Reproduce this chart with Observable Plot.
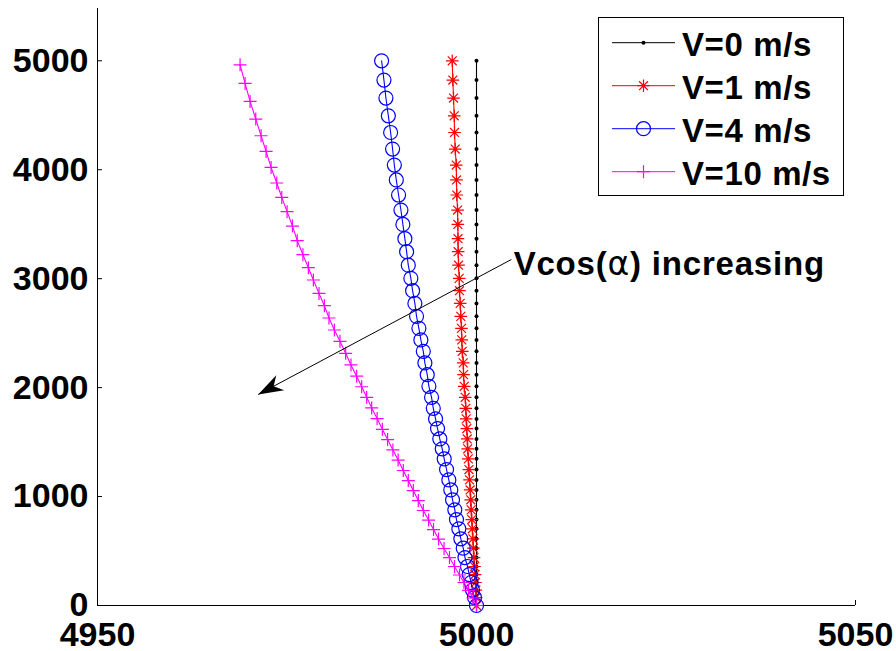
<!DOCTYPE html>
<html><head><meta charset="utf-8">
<script src="https://cdn.jsdelivr.net/npm/d3@7"></script>
<script src="https://cdn.jsdelivr.net/npm/@observablehq/plot@0.6"></script>
<style>
body{margin:0;background:#fff;}
#chart{position:relative;width:896px;height:651px;}
</style></head><body><div id="chart"></div>
<script>
// ---------- data ----------
const seriesNames = ["V=0 m/s", "V=1 m/s", "V=4 m/s", "V=10 m/s"];
const seriesColors = ["#000000", "#ff0000", "#0000ff", "#ff00ff"];
const heights = [0,73,142,211,284,358,440,526,612,704,789,878,970,1061,1153,1248,1346,1438,1529,1624,1713,1810,1911,2012,2119,2227,2333,2438,2544,2654,2773,2890,3003,3124,3248,3367,3498,3630,3768,3906,4043,4190,4342,4495,4658,4823,5000];
const xV0 = [5000,5000,5000,5000,5000,5000,5000,5000,5000,5000,5000,5000,5000,5000,5000,5000,5000,5000,5000,5000,5000,5000,5000,5000,5000,5000,5000,5000,5000,5000,5000,5000,5000,5000,5000,5000,5000,5000,5000,5000,5000,5000,5000,5000,5000,5000,5000];
const xV1 = [5000,4999.95,4999.91,4999.86,4999.80,4999.74,4999.67,4999.59,4999.53,4999.45,4999.38,4999.30,4999.24,4999.16,4999.08,4999.00,4998.92,4998.84,4998.78,4998.72,4998.64,4998.59,4998.51,4998.38,4998.29,4998.25,4998.12,4998.06,4998.02,4997.93,4997.85,4997.76,4997.72,4997.63,4997.58,4997.56,4997.54,4997.50,4997.40,4997.36,4997.33,4997.19,4997.10,4997.06,4996.97,4996.88,4996.80];
const xV4 = [5000,4999.74,4999.47,4999.28,4999.05,4998.81,4998.48,4998.25,4997.93,4997.67,4997.36,4997.14,4996.84,4996.61,4996.35,4996.05,4995.74,4995.48,4995.16,4994.86,4994.60,4994.30,4994.07,4993.72,4993.50,4993.19,4992.98,4992.66,4992.40,4992.09,4991.87,4991.57,4991.34,4991.00,4990.78,4990.55,4990.29,4990.03,4989.72,4989.42,4989.16,4988.93,4988.67,4988.37,4988.05,4987.79,4987.48];
const heightsV10 = [0,69,138,211,280,358,440,523,610,697,784,872,963,1055,1147,1239,1335,1428,1523,1617,1716,1814,1911,2008,2105,2208,2315,2425,2529,2639,2752,2865,2988,3101,3220,3349,3483,3615,3746,3878,4021,4168,4312,4465,4627,4792,4963];
const xV10 = [5000,4999.54,4998.95,4998.35,4997.76,4997.10,4996.44,4995.72,4994.99,4994.33,4993.68,4992.98,4992.32,4991.66,4991.00,4990.34,4989.66,4988.97,4988.27,4987.58,4986.89,4986.17,4985.51,4984.85,4984.19,4983.44,4982.74,4981.99,4981.25,4980.54,4979.93,4979.22,4978.48,4977.82,4977.10,4976.35,4975.72,4975.01,4974.31,4973.65,4972.90,4972.24,4971.58,4970.88,4970.13,4969.47,4968.81];
const xTicks = [4950, 5000, 5050];
const yTicks = [0, 1000, 2000, 3000, 4000, 5000];
const xDomain = [4950, 5050];
const yDomain = [0, 5480];
const annotationText = "Vcos(α) increasing";
const annotationPos = [5004.9, 3130];
const arrowStart = [5004.6, 3176];
const arrowEnd = [4971.2, 1937];

// ---------- symbols ----------
const plusSym = {draw(c, s) {const r = Math.sqrt(s / Math.PI); c.moveTo(-r, 0); c.lineTo(r, 0); c.moveTo(0, -r); c.lineTo(0, r);}};
const starSym = {draw(c, s) {const r = Math.sqrt(s / Math.PI), d = r * Math.SQRT1_2;
  c.moveTo(-r, 0); c.lineTo(r, 0); c.moveTo(0, -r); c.lineTo(0, r);
  c.moveTo(-d, -d); c.lineTo(d, d); c.moveTo(-d, d); c.lineTo(d, -d);}};
const headSym = {draw(c, s) {const L = Math.sqrt(s / Math.PI), W = L * 0.34;
  c.moveTo(0, 0); c.lineTo(-L, -W); c.lineTo(-L * 0.7, 0); c.lineTo(-L, W); c.closePath();}};

const series = [
  {name: seriesNames[0], color: seriesColors[0], xs: xV0, ys: heights, symbol: d3.symbolCircle, r: 2, filled: true},
  {name: seriesNames[1], color: seriesColors[1], xs: xV1, ys: heights, symbol: starSym, r: 6.3},
  {name: seriesNames[2], color: seriesColors[2], xs: xV4, ys: heights, symbol: d3.symbolCircle, r: 7},
  {name: seriesNames[3], color: seriesColors[3], xs: xV10, ys: heightsV10, symbol: plusSym, r: 6.5}
];

const W = 896, H = 651, mL = 97, mR = 41, mT = 8, mB = 46;
const FONT = "'Liberation Sans', Arial, Helvetica, sans-serif";

// arrow head angle in pixel space
const sx = Plot.scale({x: {domain: xDomain, range: [mL, W - mR]}});
const sy = Plot.scale({y: {domain: yDomain, range: [H - mB, mT]}});
const ang = Math.atan2(sy.apply(arrowEnd[1]) - sy.apply(arrowStart[1]), sx.apply(arrowEnd[0]) - sx.apply(arrowStart[0])) * 180 / Math.PI;

const marks = [
  Plot.ruleX([xDomain[0]], {stroke: "#000", strokeWidth: 1}),
  Plot.ruleY([0], {stroke: "#000", strokeWidth: 1}),
  Plot.axisY(yTicks, {tickSize: 5, dx: 5, fill: "none", label: null, stroke: "#000"}),
  Plot.axisY(yTicks, {tickSize: 0, tickPadding: 9, label: null, tickFormat: "d", fontSize: 34, fontWeight: "bold", fill: "#000"}),
  Plot.axisX(xTicks, {tickSize: 5, dy: -5, fill: "none", label: null, stroke: "#000"}),
  Plot.axisX(xTicks, {tickSize: 0, tickPadding: 16, label: null, tickFormat: "d", fontSize: 34, fontWeight: "bold", fill: "#000"})
];
for (const s of series) {
  const data = s.xs.map((x, i) => ({x, y: s.ys[i]}));
  marks.push(Plot.line(data, {x: "x", y: "y", stroke: s.color, strokeWidth: 1.1}));
  marks.push(Plot.dot(data, {x: "x", y: "y", symbol: s.symbol, r: s.r,
    fill: s.filled ? s.color : "none", stroke: s.filled ? "none" : s.color, strokeWidth: 1.2}));
}
marks.push(Plot.link([{x1: arrowStart[0], y1: arrowStart[1], x2: arrowEnd[0], y2: arrowEnd[1]}],
  {x1: "x1", y1: "y1", x2: "x2", y2: "y2", stroke: "#000", strokeWidth: 1}));
marks.push(Plot.dot([{x: arrowEnd[0], y: arrowEnd[1]}], {x: "x", y: "y", symbol: headSym, r: 25, rotate: ang, fill: "#000", stroke: "none"}));
marks.push(Plot.text([{x: annotationPos[0], y: annotationPos[1], t: annotationText}],
  {x: "x", y: "y", text: "t", textAnchor: "start", lineAnchor: "middle", fontSize: 33, fontWeight: "bold", fill: "#000"}));

const plot = Plot.plot({
  width: W, height: H, marginLeft: mL, marginRight: mR, marginTop: mT, marginBottom: mB,
  x: {domain: xDomain, label: null},
  y: {domain: yDomain, label: null},
  style: {fontFamily: FONT, fontSize: "33px", background: "white", overflow: "visible"},
  marks
});
document.getElementById("chart").appendChild(plot);

// alpha in a lighter, non-bold face; slight letter spacing like the original
d3.select(plot).selectAll("text").each(function() {
  if (this.textContent === annotationText) {
    const el = d3.select(this).attr("letter-spacing", "0.8px");
    el.text(null);
    el.append("tspan").text("Vcos(");
    el.append("tspan").attr("font-weight", "normal").attr("font-family", "'DejaVu Sans', sans-serif").text("α");
    el.append("tspan").text(") increasing");
  }
});

// legend
const svg = d3.select(plot);
const lg = svg.append("g").attr("text-anchor", "start");
lg.append("rect").attr("x", 598.5).attr("y", 17.5).attr("width", 245).attr("height", 178)
  .attr("fill", "white").attr("stroke", "#000").attr("stroke-width", 1);
series.forEach((s, i) => {
  const cy = 42.7 + i * 43;
  lg.append("line").attr("x1", 612).attr("x2", 675).attr("y1", cy).attr("y2", cy).attr("stroke", s.color).attr("stroke-width", 1);
  lg.append("path").attr("transform", `translate(643.5,${cy})`)
    .attr("d", d3.symbol(s.symbol, Math.PI * s.r * s.r)())
    .attr("fill", s.filled ? s.color : "none").attr("stroke", s.filled ? "none" : s.color).attr("stroke-width", 1.2);
  lg.append("text").attr("x", 682).attr("y", cy + 13.5).attr("font-size", 33).attr("font-weight", "bold")
    .attr("letter-spacing", "0.6px")
    .attr("text-anchor", "start").attr("font-family", FONT).attr("fill", "#000").text(s.name);
});
</script></body></html>
